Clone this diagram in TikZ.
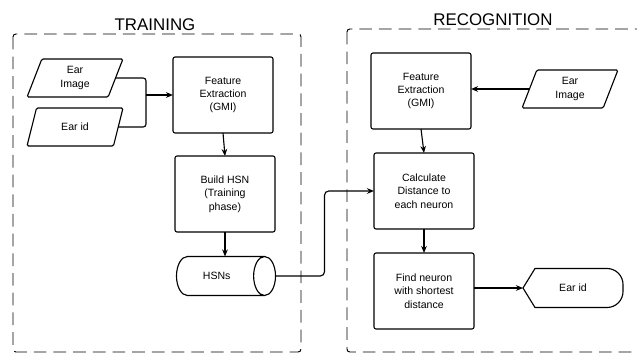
\documentclass[tikz,border=0pt]{standalone}
\usepackage{fontspec}
\setmainfont{Liberation Sans}
\usetikzlibrary{shapes.geometric,arrows.meta,calc}

\tikzset{
    procbox/.style={draw, rectangle, rounded corners=1.5pt, line width=0.8pt,
        minimum width=2.5cm, minimum height=1.9cm, align=center, outer sep=0pt,
        font=\fontsize{7.5}{9.5}\selectfont},
    iobox/.style={draw, trapezium, trapezium left angle=75, trapezium right angle=105,
        trapezium stretches=true, rounded corners=1pt, line width=0.8pt,
        minimum width=2.4cm, minimum height=0.95cm, align=center, outer sep=0pt,
        font=\fontsize{7.5}{9.5}\selectfont},
    storebox/.style={draw, cylinder, shape aspect=1.3, line width=0.8pt,
        minimum height=2.475cm, minimum width=0.975cm, outer sep=0pt,
        anchor=shape center, font=\fontsize{7.5}{9.5}\selectfont},
    outbox/.style={rectangle, minimum width=2.5cm, minimum height=0.975cm, outer sep=0pt,
        font=\fontsize{7.5}{9.5}\selectfont},
    phasebox/.style={draw, dash pattern=on 9pt off 5pt, line width=0.7pt, rounded corners=2pt},
    phasetitle/.style={font=\fontsize{12}{14}\selectfont, inner sep=0pt},
    flow/.style={line width=0.8pt, -{Stealth[length=5pt,width=4pt]}}
}

\begin{document}
\begin{tikzpicture}[x=0.025cm, y=-0.025cm]
    \useasboundingbox (0,0) rectangle (637,355);

    % Training phase
    \draw[phasebox] (13,34) rectangle (301,352);
    \node[phasetitle, anchor=base] (traintitle) at (155,30) {TRAINING};

    \node[iobox] (earimg) at (75,78) {Ear\\Image};
    \node[iobox] (earid) at (75,127) {Ear id};
    \node[procbox] (feattrain) at (223,95) {Feature\\Extraction\\(GMI)};
    \node[procbox] (buildhsn) at (225,194) {Build HSN\\(Training\\phase)};
    \node[storebox] (hsns) at (226,276) {HSNs};

    \coordinate (merge) at (146,95);
    \draw[line width=0.8pt, rounded corners=2pt] (earimg.east) -| (merge);
    \draw[line width=0.8pt, rounded corners=2pt] (earid.east) -| (merge);
    \draw[flow] (merge) -- (feattrain.west);
    \draw[flow] (feattrain.south) -- (buildhsn.north);
    \draw[flow] (buildhsn.south) -- (buildhsn.south |- hsns.north);

    % Recognition phase
    \draw[phasebox] (347,29) rectangle (660,352);
    \node[phasetitle, anchor=base] (rectitle) at (493,25) {RECOGNITION};

    \node[procbox] (featrec) at (421,91) {Feature\\Extraction\\(GMI)};
    \node[iobox] (earimgrec) at (570,89) {Ear\\Image};
    \node[procbox] (calcdist) at (424,191) {Calculate\\Distance to\\each neuron};
    \node[procbox] (findnrn) at (424,291) {Find neuron\\with shortest\\distance};
    \node[outbox] (earidout) at (573,288) {Ear id};
    \draw[line width=0.8pt] (earidout.west) -- ($(earidout.north west)+(12,0)$)
        [rounded corners=0.4cm] -- (earidout.north east) -- (earidout.south east)
        [sharp corners] -- ($(earidout.south west)+(12,0)$) -- cycle;

    \draw[flow] (earimgrec.west) -- (earimgrec.west -| featrec.east);
    \draw[flow] (featrec.south) -- (calcdist.north);
    \draw[flow] (calcdist.south) -- (findnrn.north);
    \draw[flow] (findnrn.east |- earidout.west) -- (earidout.west);

    % HSNs into recognition
    \draw[flow, rounded corners=3pt] (hsns.east) -- ++(49,0) |- (calcdist.west);
\end{tikzpicture}
\end{document}
